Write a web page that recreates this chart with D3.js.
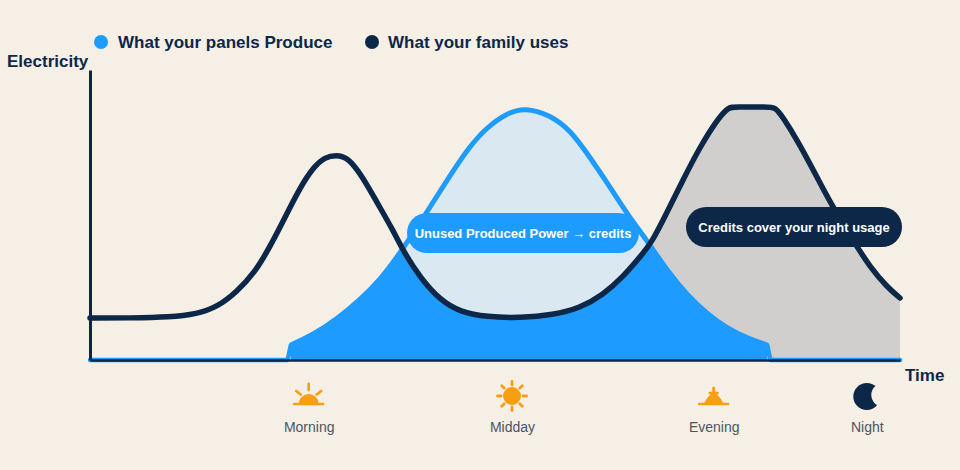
<!DOCTYPE html>
<html>
<head>
<meta charset="utf-8">
<script src="https://cdn.jsdelivr.net/npm/d3@7"></script>
<style>
    html, body { margin: 0; padding: 0; background: #f5efe6; }
    svg { display: block; }
    text { font-family: "Liberation Sans", sans-serif; }
</style>
</head>
<body>
<svg id="chart" width="960" height="470"></svg>
<script>
// time runs 0-100 across the day, electricity 0-100 up to the top of the panels curve
const usageTime = [0, 4.9, 9.9, 13.2, 15.7, 18.1, 20.4, 22.2, 24.1, 25.9, 27.6, 29, 30.4, 31.8, 33.6, 35.4, 37.4, 38.6, 40.7, 43.2, 45.7, 49, 53.1, 57.2, 60.5, 63.3, 65.8, 67.9, 69.4, 71.2, 73.2, 75.3, 77.4, 78.8, 79.6, 83.6, 84.6, 85.6, 87.3, 89.3, 91.4, 94.4, 96.3, 98.4, 100];
const usageValues = [16.8, 16.8, 17.1, 18.4, 21.2, 27.2, 35.2, 45.2, 57.2, 68.8, 77.2, 81.2, 82, 81.2, 73.6, 63.2, 52, 44, 33.2, 24, 19.2, 17.2, 16.8, 18, 20.8, 26, 33.2, 41.2, 47.2, 58.8, 72, 85.2, 96, 101.2, 101.2, 101.2, 101.2, 96.8, 88, 76, 62.8, 46.8, 37.2, 29.2, 24.8];

const panelTime = [24.8, 27.5, 30.5, 33.3, 35.8, 38.3, 41.6, 44.1, 46.5, 49, 51.5, 53.7, 56.8, 59.3, 61.7, 64.2, 66.4, 68.9, 71.2, 73.7, 76.2, 78.6, 81.1, 83.6];
const panelValues = [6, 10, 16.4, 24, 32, 42.8, 59.2, 72, 84, 93.2, 98.8, 101, 98, 92, 81.2, 69.2, 58, 47.2, 36, 26, 18.4, 12.8, 8.8, 6];

const tickTimes = [27, 52.1, 77, 95.9];
const tickLabels = ["Morning", "Midday", "Evening", "Night"];
const legendLabels = ["What your panels Produce", "What your family uses"];

const creditsStart = 69.3;

const blue = "#1e9bff", navy = "#0c2748", paper = "#f5efe6", orange = "#f89e13";

let svg = d3.select("#chart");

let x = d3.scaleLinear().domain([0, 100]).range([90, 900]);
let y = d3.scaleLinear().domain([0, 116]).range([360, 70]);

let usage = usageTime.map(function (t, i) { return { t: t, v: usageValues[i] }; });
let panels = panelTime.map(function (t, i) { return { t: t, v: panelValues[i] }; });

let line = d3.line()
    .curve(d3.curveBasis)
    .x(function (d) { return x(d.t); })
    .y(function (d) { return y(d.v); });

let area = d3.area()
    .curve(d3.curveBasis)
    .x(function (d) { return x(d.t); })
    .y0(y(0))
    .y1(function (d) { return y(d.v); });

let straight = d3.line()
    .x(function (d) { return x(d.t); })
    .y(function (d) { return y(d.v); });

let defs = svg.append("defs");
defs.append("clipPath").attr("id", "underUsage")
    .append("path").attr("d", area(usage));
defs.append("clipPath").attr("id", "afterCrossing")
    .append("rect")
    .attr("x", x(creditsStart)).attr("y", 0)
    .attr("width", x(100) - x(creditsStart)).attr("height", y(0));

// night usage paid by credits
svg.append("path")
    .attr("d", area(usage))
    .attr("fill", "#d1cfcd")
    .attr("clip-path", "url(#afterCrossing)");

// everything produced, then the part used directly on top
svg.append("path").attr("d", area(panels)).attr("fill", "#d9e8f1");
svg.append("path")
    .attr("d", area(panels))
    .attr("fill", blue)
    .attr("clip-path", "url(#underUsage)");
svg.append("path")
    .attr("d", line(panels))
    .attr("fill", "none")
    .attr("stroke", blue)
    .attr("stroke-width", 5)
    .attr("stroke-linejoin", "round");

// panels sit at zero before sunrise and after sunset
let first = panels[0], last = panels[panels.length - 1];
[
    [{ t: 0, v: 0 }, { t: first.t - 0.4, v: 0 }, first],
    [last, { t: last.t + 0.4, v: 0 }, { t: 100, v: 0 }]
].forEach(function (seg) {
    svg.append("path")
        .attr("d", straight(seg))
        .attr("fill", "none")
        .attr("stroke", blue)
        .attr("stroke-width", 4.5)
        .attr("stroke-linecap", "round")
        .attr("stroke-linejoin", "round");
});

// Add the Y Axis
svg.append("g")
    .attr("transform", "translate(" + x(0) + ",0)")
    .call(d3.axisLeft(y).tickValues([]).tickSizeOuter(0))
    .select(".domain")
    .attr("stroke", navy)
    .attr("stroke-width", 3);

// Add the X Axis
let xAxis = d3.axisBottom(x)
    .tickValues(tickTimes)
    .tickSize(0)
    .tickFormat(function (d, i) { return tickLabels[i]; });

let xAxisG = svg.append("g")
    .attr("transform", "translate(0," + y(0) + ")")
    .call(xAxis);
xAxisG.select(".domain")
    .attr("stroke", navy)
    .attr("stroke-width", 2.5);
xAxisG.selectAll(".tick text")
    .attr("y", 0)
    .attr("dy", 72)
    .attr("font-size", 14)
    .attr("font-family", "'Liberation Sans', sans-serif")
    .attr("fill", "#4b5563");

svg.append("path")
    .attr("d", line(usage))
    .attr("fill", "none")
    .attr("stroke", navy)
    .attr("stroke-width", 5.5)
    .attr("stroke-linecap", "round")
    .attr("stroke-linejoin", "round");

// the two pills
function pill(left, top, w, h, fill, label) {
    svg.append("rect")
        .attr("x", left).attr("y", top)
        .attr("width", w).attr("height", h)
        .attr("rx", 20)
        .attr("fill", fill);
    svg.append("text")
        .attr("x", left + w / 2).attr("y", top + h / 2 + 4.5)
        .attr("text-anchor", "middle")
        .attr("font-size", 13)
        .attr("font-weight", 700)
        .attr("fill", "#fff")
        .text(label);
}
pill(407, 213, 232, 40, blue, "Unused Produced Power → credits");
pill(686, 207, 216, 40, navy, "Credits cover your night usage");

// legend
[[101, 118, blue], [372, 388, navy]].forEach(function (l, i) {
    svg.append("circle").attr("cx", l[0]).attr("cy", 42).attr("r", 7).attr("fill", l[2]);
    svg.append("text")
        .attr("x", l[1]).attr("y", 48)
        .attr("font-size", 17).attr("font-weight", 700)
        .attr("fill", navy)
        .text(legendLabels[i]);
});

function axisTitle(px, py, label) {
    svg.append("text")
        .attr("x", px).attr("y", py)
        .attr("font-size", 17).attr("font-weight", 700)
        .attr("fill", navy)
        .text(label);
}
axisTitle(7, 67, "Electricity");
axisTitle(905, 381, "Time");

// icons above the tick labels
function ray(g, x1, y1, x2, y2, w) {
    g.append("line")
        .attr("x1", x1).attr("y1", y1).attr("x2", x2).attr("y2", y2)
        .attr("stroke", orange)
        .attr("stroke-width", w)
        .attr("stroke-linecap", "round");
}

let morning = svg.append("g").attr("transform", "translate(" + x(tickTimes[0]) + ",404)");
morning.append("path").attr("d", "M-10,0A10,10 0 0 1 10,0Z").attr("fill", orange);
ray(morning, -14.5, 0, 14.5, 0, 2.5);
ray(morning, 0, -20, 0, -14, 2.8);
ray(morning, -12.5, -13, -8, -9.5, 2.8);
ray(morning, 12.5, -13, 8, -9.5, 2.8);

let midday = svg.append("g").attr("transform", "translate(" + x(tickTimes[1]) + ",396)");
midday.append("circle").attr("r", 9).attr("fill", orange);
d3.range(8).forEach(function (i) {
    let a = i * Math.PI / 4;
    ray(midday, 11 * Math.cos(a), 11 * Math.sin(a), 14.5 * Math.cos(a), 14.5 * Math.sin(a), 2.8);
});

let evening = svg.append("g").attr("transform", "translate(" + x(tickTimes[2]) + ",404)");
evening.append("path").attr("d", "M-10,0Q-8,-5 -3,-10H3Q8,-5 10,0Z").attr("fill", orange);
ray(evening, -14.5, 0, 14.5, 0, 2.5);
ray(evening, 0, -16, 0, -8, 3);
ray(evening, -4, -11, 4, -11, 2.5);

let night = svg.append("g").attr("transform", "translate(" + x(tickTimes[3]) + ",396.5)");
night.append("circle").attr("r", 13.5).attr("fill", navy);
night.append("circle").attr("cx", 16).attr("cy", -1.5).attr("r", 11.5).attr("fill", paper);
</script>
</body>
</html>
